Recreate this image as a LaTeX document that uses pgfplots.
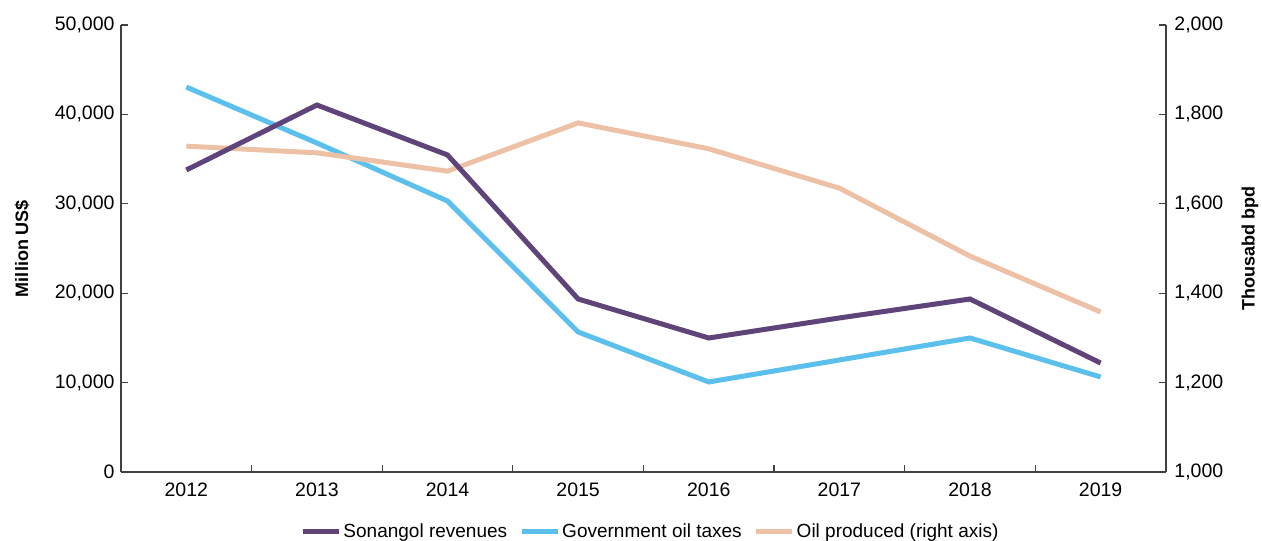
\documentclass[border=0pt]{standalone}
\usepackage{pgfplots}
\pgfplotsset{compat=1.18}
\usepackage{fontspec}
\setmainfont{Liberation Sans}
\definecolor{cPurple}{HTML}{5F4479}
\definecolor{cBlue}{HTML}{5BC0EB}
\definecolor{cPeach}{HTML}{EDC1A5}
\definecolor{cAxis}{HTML}{404040}
\pgfplotsset{
  base/.style={
    width=1045pt, height=447pt, scale only axis,
    at={(0pt,0pt)}, anchor=south west,
    xmin=-0.5, xmax=7.5,
    tick align=inside,
    font=\fontsize{19.5}{22}\selectfont,
    label style={font=\fontsize{18}{21}\selectfont},
    /pgf/number format/assume math mode=true,
    every axis plot/.append style={line width=5pt, line join=miter},
    axis line style={cAxis, line width=1.3pt},
    every tick/.style={cAxis, line width=1.3pt},
    major tick length=7pt, minor tick length=7pt,
  },
  leftax/.style={base, ymin=0, ymax=50000,
    ytick={0,10000,...,50000},
    scaled y ticks=false,
    yticklabel style={/pgf/number format/.cd, fixed, 1000 sep={,}, /tikz/.cd, xshift=-3pt},
  },
}
\begin{document}
\begin{tikzpicture}
\path[use as bounding box] (-121pt,-69pt) rectangle (1141pt,472pt);
% Axis A: left scale, axis lines, blue
\begin{axis}[leftax,
  axis x line*=bottom, axis y line*=left,
  xtick={0,1,2,3,4,5,6,7},
  xticklabels={2012,2013,2014,2015,2016,2017,2018,2019},
  major x tick style={draw=none},
  minor xtick={0.5,1.5,2.5,3.5,4.5,5.5,6.5},
  xticklabel style={yshift=-7pt},
  ylabel={\bfseries Million US\$},
  ylabel style={at={([xshift=-99pt]axis description cs:0,0.5)}, anchor=center},
]
\addplot[cBlue] coordinates {(0,43060) (1,36800) (2,30310) (3,15660) (4,10070) (5,12530) (6,14990) (7,10630)};
\end{axis}
% Axis B: right scale, peach
\begin{axis}[base,
  ymin=1000, ymax=2000,
  ytick={1000,1200,...,2000},
  xtick=\empty,
  yticklabel style={/pgf/number format/.cd, fixed, 1000 sep={,}, /tikz/.cd, xshift=5pt},
  axis x line=none, axis y line*=right,
  ylabel={\bfseries Thousabd bpd},
  ylabel style={at={([xshift=84pt]axis description cs:1,0.5)}, anchor=center},
]
\addplot[cPeach] coordinates {(0,1729) (1,1714) (2,1673) (3,1781) (4,1723) (5,1635) (6,1483) (7,1358)};
\end{axis}
% Axis C: left scale, purple + legend
\begin{axis}[leftax,
  axis x line=none, axis y line=none, xtick=\empty, ytick=\empty,
  legend style={at={(axis description cs:0.5,0)}, anchor=center, yshift=-59pt, xshift=7pt,
    draw=none, fill=none, legend columns=-1,
    /tikz/every even column/.append style={column sep=10pt},
    font=\fontsize{19}{22}\selectfont},
  legend image code/.code={\draw[#1, line width=5pt] (0pt,0pt) -- (36pt,0pt);},
]
\addlegendimage{cPurple}
\addlegendentry{Sonangol revenues}
\addlegendimage{cBlue}
\addlegendentry{Government oil taxes}
\addlegendimage{cPeach}
\addlegendentry{Oil produced (right axis)}
\addplot[cPurple, forget plot] coordinates {(0,33780) (1,41050) (2,35460) (3,19350) (4,14990) (5,17230) (6,19350) (7,12190)};
\end{axis}
\end{tikzpicture}
\end{document}
